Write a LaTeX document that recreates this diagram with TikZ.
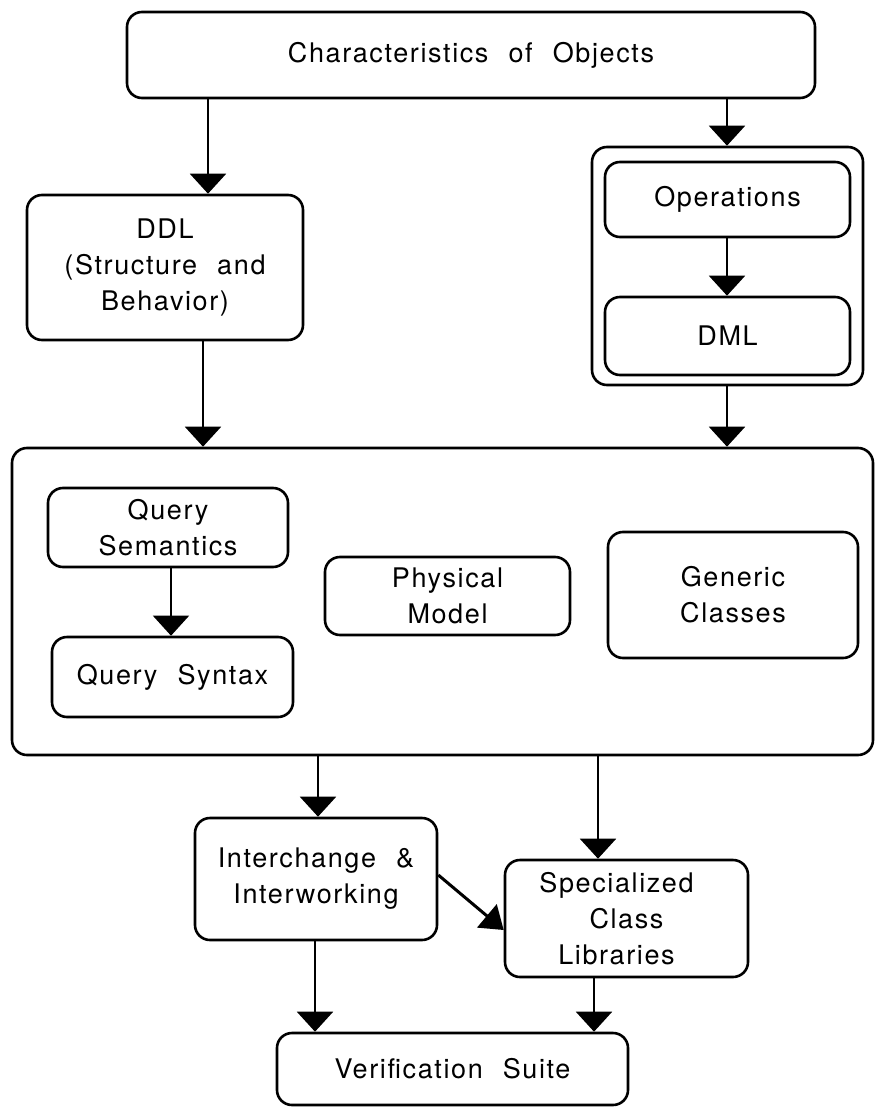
\documentclass[tikz,border=0pt]{standalone}
\usepackage{fontspec}
\setmainfont{TeX Gyre Heros}[LetterSpace=6, WordSpace=2.2]
\usetikzlibrary{arrows.meta}
\begin{document}
\begin{tikzpicture}[x=1pt, y=-1pt,
  box/.style={draw, line width=2.6pt, rounded corners=15pt, align=center,
    inner sep=0pt, font=\fontsize{27}{36}\selectfont},
  arr/.style={line width=2.2pt, -{Triangle[width=36pt,length=20pt]}},
  thinarr/.style={line width=1.6pt, -{Triangle[width=36pt,length=20pt]}},
  thickarr/.style={line width=3pt, -{Triangle[width=30pt,length=22pt]}}]
\useasboundingbox (0,0) rectangle (875,1107);

% top level
\node[box, minimum width=688pt, minimum height=86pt] (top) at (471,55) {Characteristics of Objects};

% left column
\node[box, minimum width=276pt, minimum height=145pt] (ddl) at (165,267.5)
  {DDL\\(Structure and\\Behavior)};

% right column: operations and DML grouped
\node[box, minimum width=271pt, minimum height=238pt] (grp) at (727.5,266) {};
\node[box, minimum width=245pt, minimum height=75pt] (ops) at (727.5,199.5) {Operations};
\node[box, minimum width=245pt, minimum height=78pt] (dml) at (727.5,336) {DML};

% main container
\node[box, minimum width=861pt, minimum height=307pt] (main) at (442.5,601.5) {};
\node[box, minimum width=240pt, minimum height=79pt] (qsem) at (168,527.5) {Query\\Semantics};
\node[box, minimum width=241pt, minimum height=80pt] (qsyn) at (172.5,677) {Query Syntax};
\node[box, minimum width=245pt, minimum height=78pt] (phys) at (447.5,596) {Physical\\Model};
\node[box, minimum width=250pt, minimum height=126pt] (gen) at (733,595) {Generic\\Classes};

% lower part
\node[box, minimum width=242pt, minimum height=122pt] (inter) at (316,879) {Interchange \&\\Interworking};
\node[box, minimum width=243pt, minimum height=117pt] (spec) at (626.5,918.5)
  {Specialized\hspace*{20pt}\\Class\hspace*{20pt}\\Libraries\hspace*{20pt}};
\node[box, minimum width=351pt, minimum height=72pt] (ver) at (452.5,1069) {Verification Suite};

% connector columns
\coordinate (xa) at (208,0);
\coordinate (xb) at (727,0);
\coordinate (xc) at (203,0);
\coordinate (xq) at (171,0);
\coordinate (xd) at (318,0);
\coordinate (xe) at (598,0);
\coordinate (xf) at (315,0);
\coordinate (xg) at (594,0);

\draw[arr] (top.south -| xa) -- (ddl.north -| xa);
\draw[arr] (top.south -| xb) -- (grp.north -| xb);
\draw[arr] (ops.south -| xb) -- (dml.north -| xb);
\draw[arr] (ddl.south -| xc) -- (main.north -| xc);
\draw[arr] (grp.south -| xb) -- (main.north -| xb);
\draw[thinarr] (qsem.south -| xq) -- (qsyn.north -| xq);
\draw[arr] (main.south -| xd) -- (inter.north -| xd);
\draw[arr] (main.south -| xe) -- (spec.north -| xe);
\draw[thickarr] ([yshift=4pt]inter.east) -- ([yshift=-11.5pt]spec.west);
\draw[arr] (inter.south -| xf) -- (ver.north -| xf);
\draw[arr] (spec.south -| xg) -- (ver.north -| xg);
\end{tikzpicture}
\end{document}
